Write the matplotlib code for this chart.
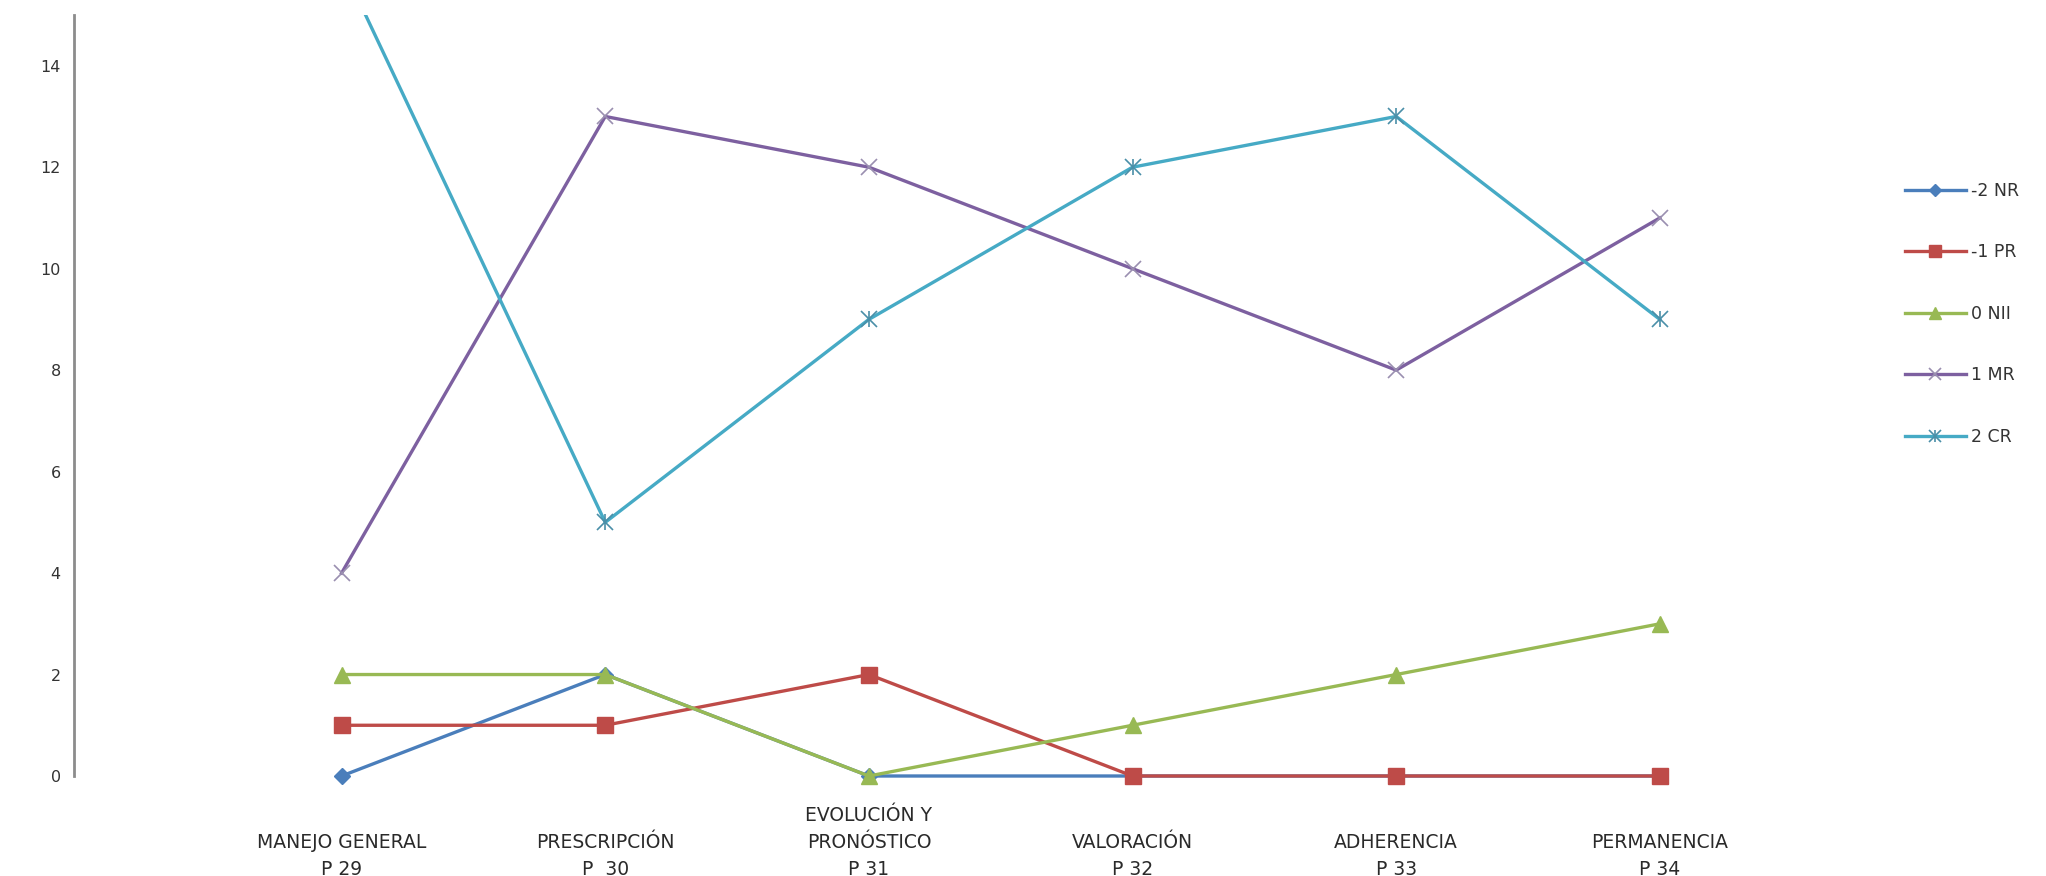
import numpy as np
from matplotlib import pyplot as plt
from matplotlib.lines import Line2D
from matplotlib.patches import Rectangle

# Categories (question groups) and answer counts per rating level
categorias = ['\nMANEJO GENERAL\nP 29', '\nPRESCRIPCIÓN\nP  30', 'EVOLUCIÓN Y\nPRONÓSTICO\nP 31',
              '\nVALORACIÓN\nP 32', '\nADHERENCIA\nP 33', '\nPERMANENCIA\nP 34']
nr = [0, 2, 0, 0, 0, 0]      # -2 NR
pr = [1, 1, 2, 0, 0, 0]      # -1 PR
nii = [2, 2, 0, 1, 2, 3]     # 0 NII
mr = [4, 13, 12, 10, 8, 11]  # 1 MR
cr = [16, 5, 9, 12, 13, 9]   # 2 CR

x = np.arange(len(categorias))

fig = plt.figure(figsize=(20.46, 8.76), dpi=100)
ax = fig.add_axes([74/2046, 1-776/876, (1760-74)/2046, (776-15)/876])

# clip only at the top so lines lying on zero keep their full width
clip = Rectangle((-0.1, -0.1), 1.2, 1.1, transform=ax.transAxes, visible=False)
ax.add_patch(clip)

lw = 2.4
estilos = [
    (nr, '#4A7EBB', dict(marker='D', ms=8)),
    (pr, '#BE4B48', dict(marker='s', ms=11)),
    (nii, '#98B954', dict(marker='^', ms=11)),
    (mr, '#7D60A0', dict(marker='x', ms=12, mew=1.2, mec='#9A8FB0')),
    (cr, '#46AAC5', dict(marker='x', ms=12, mew=1.2, mec='#4A8FA8')),
]
for vals, col, mk in estilos:
    ln, = ax.plot(x, vals, color=col, lw=lw)
    ln.set_clip_path(clip)
    ax.plot(x, vals, color=col, lw=0, clip_on=False, **mk)
ax.plot(x, cr, lw=0, marker='|', ms=12, mew=1.2, mec='#4A8FA8', clip_on=False)

ax.set_xlim(-1.015, 5.38)
ax.set_ylim(0, 15)
ax.set_yticks(range(0, 15, 2))
ax.set_xticks(x)
ax.set_xticklabels(categorias, fontsize=13.5, family='DejaVu Sans', linespacing=1.55, color='#2A2A2A')
ax.tick_params(axis='both', length=0)
ax.tick_params(axis='x', pad=21.5)
ax.tick_params(axis='y', pad=9.5, labelsize=11.5, labelcolor='#333333')

for s in ['top', 'right', 'bottom']:
    ax.spines[s].set_visible(False)
ax.spines['left'].set_color('#8C8C8C')
ax.spines['left'].set_linewidth(2)

# legend entries, cyan uses an x with a vertical bar
h_nr = Line2D([], [], color='#4A7EBB', lw=2.4, marker='D', ms=6)
h_pr = Line2D([], [], color='#BE4B48', lw=2.4, marker='s', ms=8)
h_nii = Line2D([], [], color='#98B954', lw=2.4, marker='^', ms=8)
h_mr = Line2D([], [], color='#7D60A0', lw=2.4, marker='x', ms=9, mew=1.2, mec='#9A8FB0')
h_cr1 = Line2D([], [], color='#46AAC5', lw=2.4, marker='x', ms=9, mew=1.2, mec='#4A8FA8')
h_cr2 = Line2D([], [], color='#46AAC5', lw=0, marker='|', ms=9, mew=1.2, mec='#4A8FA8')
fig.legend([h_nr, h_pr, h_nii, h_mr, (h_cr1, h_cr2)],
           ['-2 NR', '-1 PR', '0 NII', '1 MR', '2 CR'],
           loc='upper left', bbox_to_anchor=(1905/2046, 1-182/876),
           frameon=False, fontsize=12.5, handlelength=3.5, handletextpad=0.3,
           labelspacing=2.5, borderpad=0, borderaxespad=0, labelcolor='#333333')

fig.savefig('out.png', dpi=100)
